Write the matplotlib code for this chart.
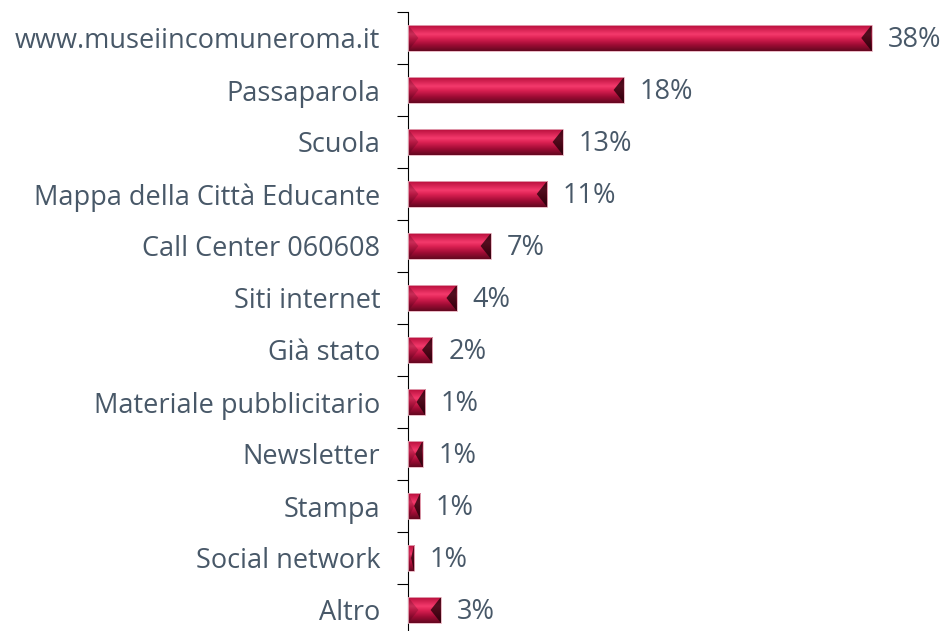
import matplotlib.pyplot as plt
from matplotlib.patches import Polygon
from matplotlib.colors import LinearSegmentedColormap
import numpy as np

categorie = ['www.museiincomuneroma.it', 'Passaparola', 'Scuola', 'Mappa della Città Educante',
             'Call Center 060608', 'Siti internet', 'Già stato', 'Materiale pubblicitario',
             'Newsletter', 'Stampa', 'Social network', 'Altro']
valori = [38.0, 17.7, 12.7, 11.4, 6.8, 4.0, 2.0, 1.4, 1.2, 1.0, 0.5, 2.7]
etichette = ['38%', '18%', '13%', '11%', '7%', '4%', '2%', '1%', '1%', '1%', '1%', '3%']

plt.rcParams['font.family'] = ['Open Sans', 'DejaVu Sans']
testo = '#485868'

fig = plt.figure(figsize=(9.45, 6.31), dpi=100)
ax = fig.add_axes([408 / 945, -5 / 631, 537 / 945, 624 / 631])

y = np.arange(len(categorie))
h = 0.5
barre = ax.barh(y, valori, height=h, color='#c8103e', linewidth=0, zorder=2)

# sfumatura verticale + smussatura ai lati
sfum = LinearSegmentedColormap.from_list('sfum', [
    (0.0, '#b80e3c'), (0.35, '#f43a6c'), (0.5, '#de2254'), (0.75, '#a20c36'), (1.0, '#640820')])
grad = np.linspace(0, 1, 64).reshape(-1, 1)
for b in barre:
    x0, y0 = b.get_x(), b.get_y()
    x1, y1 = x0 + b.get_width(), y0 + b.get_height()
    ax.imshow(grad, cmap=sfum, aspect='auto', extent=(x0, x1, y1, y0), zorder=3,
              interpolation='bilinear')
    dx = min(0.85, (x1 - x0) / 2)
    ym = (y0 + y1) / 2
    ax.add_patch(Polygon([(x0, y0), (x0 + dx, ym), (x0, y1)], facecolor='#300010', alpha=0.22,
                         edgecolor='none', zorder=4))
    ax.add_patch(Polygon([(x1, y0), (x1 - dx, ym), (x1, y1)], facecolor='#1c0006', alpha=0.75,
                         edgecolor='none', zorder=4))
    ax.add_patch(Polygon([(x0, y0), (x1, y0), (x1, y1), (x0, y1)], closed=True,
                         facecolor='none', edgecolor='#e6b0bd', linewidth=0.6, zorder=5))

for yi, v, t in zip(y, valori, etichette):
    ax.text(v + 1.3, yi + 0.03, t, va='center', ha='left', fontsize=19.5, color=testo)

ax.set_xlim(0, 537 / 12.2)
ax.set_ylim(len(categorie) - 0.5, -0.5)
ax.set_yticks(y)
ax.set_yticklabels(categorie, fontsize=19.5, color=testo)
ax.tick_params(axis='y', which='major', length=0, pad=20)
ax.set_yticks(np.arange(-0.5, len(categorie)), minor=True)
ax.tick_params(axis='y', which='minor', length=8, width=0.8, color='black')
ax.set_xticks([])
for s in ['top', 'right', 'bottom']:
    ax.spines[s].set_visible(False)
ax.spines['left'].set_linewidth(0.8)

fig.savefig('out.png', dpi=100)
